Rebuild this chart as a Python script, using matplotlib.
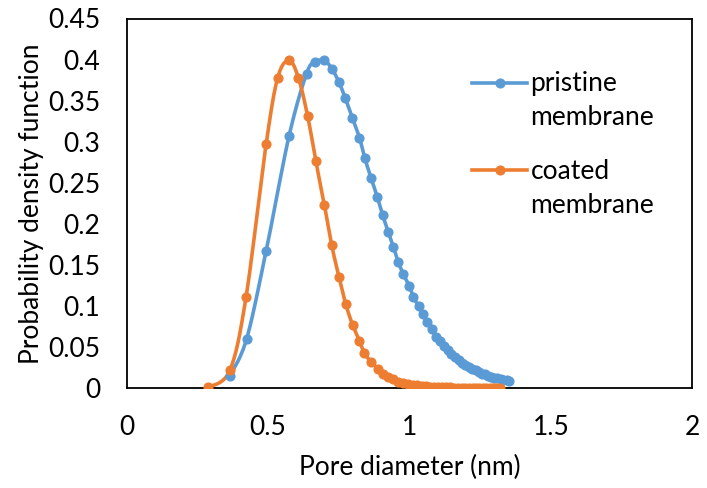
import numpy as np
import matplotlib
matplotlib.use("Agg")
import matplotlib.pyplot as plt
from matplotlib.legend_handler import HandlerLine2D

plt.rcParams['font.family'] = ['Lato', 'DejaVu Sans']

# ---- data ----
pristine_x = [0.365, 0.424, 0.493, 0.574, 0.636, 0.666, 0.699, 0.725, 0.750, 0.773,
              0.798, 0.823, 0.842, 0.864, 0.886, 0.905, 0.925, 0.943, 0.960, 0.978,
              0.999, 1.014, 1.032, 1.047, 1.063, 1.079, 1.094, 1.108, 1.122, 1.135,
              1.148, 1.161, 1.174, 1.186, 1.198, 1.210, 1.222, 1.234, 1.245, 1.256,
              1.267, 1.278, 1.289, 1.300, 1.311, 1.322, 1.332, 1.343, 1.353]
pristine_y = [0.015, 0.060, 0.167, 0.307, 0.383, 0.397, 0.399, 0.389, 0.373, 0.353,
              0.329, 0.305, 0.280, 0.256, 0.233, 0.211, 0.190, 0.172, 0.154, 0.139,
              0.125, 0.111, 0.100, 0.090, 0.081, 0.072, 0.063, 0.057, 0.051, 0.046,
              0.042, 0.038, 0.034, 0.031, 0.028, 0.026, 0.024, 0.022, 0.020, 0.018,
              0.017, 0.015, 0.014, 0.013, 0.012, 0.011, 0.010, 0.0095, 0.009]

coated_x = [0.289, 0.365, 0.422, 0.493, 0.534, 0.574, 0.607, 0.640, 0.669, 0.699,
            0.725, 0.751, 0.775, 0.799, 0.823, 0.840, 0.865, 0.888, 0.907, 0.925,
            0.943, 0.960, 0.978, 0.995, 1.011, 1.027, 1.043, 1.058, 1.073, 1.088,
            1.102, 1.116, 1.130, 1.144, 1.158, 1.171, 1.184, 1.197, 1.210, 1.223,
            1.235, 1.247, 1.259, 1.271, 1.283, 1.295, 1.307, 1.320]
coated_y = [0.001, 0.022, 0.111, 0.297, 0.378, 0.399, 0.378, 0.331, 0.276, 0.223,
            0.174, 0.135, 0.102, 0.077, 0.058, 0.043, 0.032, 0.024, 0.018, 0.014,
            0.011, 0.008, 0.006, 0.005, 0.004, 0.0035, 0.003, 0.0025, 0.002, 0.0018,
            0.0015, 0.0013, 0.0011, 0.001, 0.0009, 0.0008, 0.0007, 0.0006, 0.0006, 0.0005,
            0.0005, 0.0004, 0.0004, 0.0004, 0.0003, 0.0003, 0.0003, 0.0003]

series_labels = ["pristine\nmembrane", "coated\nmembrane"]
x_ticks = [0, 0.5, 1, 1.5, 2]
y_ticks = [0, 0.05, 0.1, 0.15, 0.2, 0.25, 0.3, 0.35, 0.4, 0.45]
x_label = "Pore diameter (nm)"
y_label = "Probability density function"

BLUE = "#5B9BD5"
ORANGE = "#ED7D31"
FS = 19


def catmull_rom(x, y, n=16):
    pts = np.column_stack([x, y]).astype(float)
    P = np.vstack([pts[0], pts, pts[-1]])
    t = np.linspace(0, 1, n, endpoint=False)[:, None]
    segs = []
    for i in range(1, len(P) - 2):
        p0, p1, p2, p3 = P[i - 1], P[i], P[i + 1], P[i + 2]
        seg = 0.5 * (2 * p1 + (-p0 + p2) * t + (2 * p0 - 5 * p1 + 4 * p2 - p3) * t ** 2
                     + (-p0 + 3 * p1 - 3 * p2 + p3) * t ** 3)
        segs.append(seg)
    segs.append(pts[-1][None])
    s = np.vstack(segs)
    return s[:, 0], s[:, 1]


fig = plt.figure(figsize=(7.07, 4.88), dpi=100)
ax = fig.add_axes([126.7 / 707, 1 - 388.3 / 488, (692.3 - 126.7) / 707, (388.3 - 18.5) / 488])

LW = 2.6
MS = 6.3
handles = []
for xs, ys, c, lab in [(pristine_x, pristine_y, BLUE, series_labels[0]),
                       (coated_x, coated_y, ORANGE, series_labels[1])]:
    sx, sy = catmull_rom(xs, ys)
    ax.plot(sx, sy, color=c, lw=LW, solid_capstyle='round', zorder=2)
    ax.plot(xs, ys, 'o', color=c, ms=MS, mec=c, zorder=3)
    h, = ax.plot([], [], color=c, lw=LW, marker='o', ms=MS, label=lab)
    handles.append(h)

ax.set_xlim(0, 2)
ax.set_ylim(0, 0.45)
ax.set_xticks(x_ticks)
ax.set_xticklabels([f"{v:g}" for v in x_ticks])
ax.set_yticks(y_ticks)
ax.set_yticklabels([f"{v:g}" for v in y_ticks])
ax.tick_params(length=0, labelsize=FS, colors="black")
ax.tick_params(axis='x', pad=19)
ax.tick_params(axis='y', pad=19)
for sp in ax.spines.values():
    sp.set_color("black")
    sp.set_linewidth(1.3)

ax.set_xlabel(x_label, fontsize=FS, labelpad=11)
ax.set_ylabel(y_label, fontsize=FS, labelpad=3)


class TopLineHandler(HandlerLine2D):
    def create_artists(self, legend, orig_handle, xdescent, ydescent, width, height,
                       fontsize, trans):
        arts = super().create_artists(legend, orig_handle, xdescent, ydescent, width,
                                      height, fontsize, trans)
        for a in arts:
            yd = np.asarray(a.get_ydata(), dtype=float)
            a.set_ydata(yd + 0.72 * fontsize)
        return arts


leg = ax.legend(handles=handles, loc='upper left', bbox_to_anchor=(0.588, 0.893),
                frameon=False, fontsize=FS, handlelength=2.05, handletextpad=0.15,
                labelspacing=1.08, borderpad=0,
                handler_map={h: TopLineHandler() for h in handles})
for t in leg.get_texts():
    t.set_linespacing(1.45)

fig.savefig("out.png", dpi=100)
